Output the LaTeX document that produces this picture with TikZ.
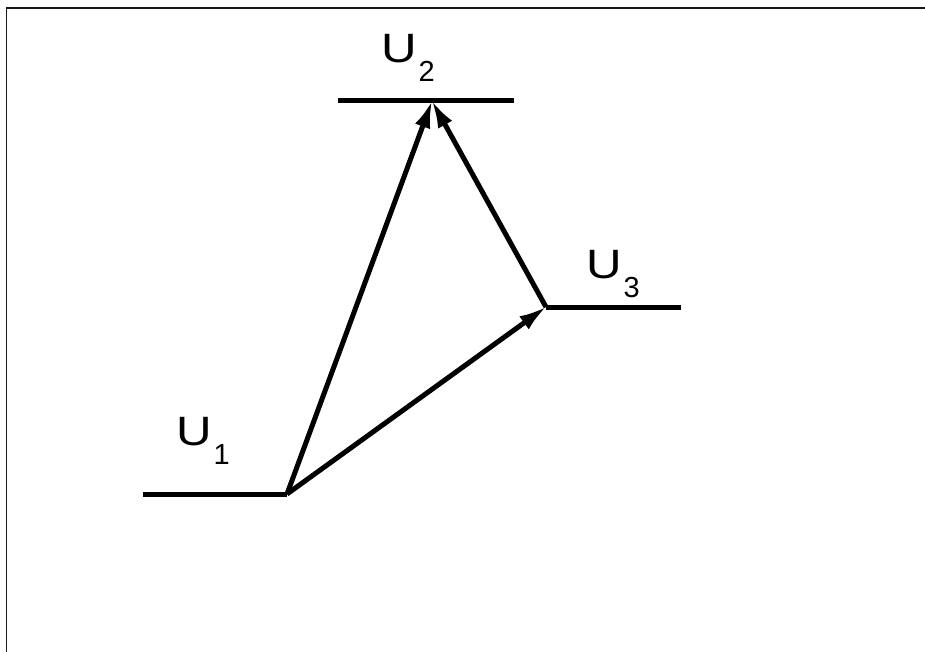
\documentclass[tikz,border=0pt]{standalone}
\usepackage{fontspec}
\setmainfont{Liberation Sans}
\usetikzlibrary{arrows.meta}
\tikzset{
  level/.style={line width=5pt},
  vec/.style={line width=5pt,-{Latex[length=28pt,width=16pt]}, shorten >=-1pt},
  frame/.style={line width=1.3pt,draw=black!90},
  lab/.style={inner sep=0pt,anchor=base west,font=\fontsize{41}{41}\selectfont},
}
\newcommand{\Ulab}[1]{\scalebox{1.2}[1]{U}\hspace{2pt}\raisebox{-19pt}{\fontsize{29}{29}\selectfont #1}}
\begin{document}
\begin{tikzpicture}[x=1pt,y=-1pt]
\useasboundingbox (0,0) rectangle (925,652);
% frame
\coordinate (fa) at (6.5,652);
\coordinate (fb) at (6.5,8);
\coordinate (fc) at (925,8);
\draw[frame] (fa) -- (fb) -- (fc);
% levels
\coordinate (p1) at (287,494);
\coordinate (p2) at (432,101);
\coordinate (p3) at (546,307);
\coordinate (l1) at (143,494);
\coordinate (r2a) at (338,101);
\coordinate (r2b) at (514,101);
\coordinate (r3) at (681,307);
\draw[level] (l1) -- (p1);
\draw[level] (r2a) -- (r2b);
\draw[level] (p3) -- (r3);
% vectors
\draw[vec] (p1) -- (p2);
\draw[vec] (p3) -- (p2);
\draw[vec] (p1) -- (p3);
% labels
\node[lab] (u2) at (381,63) {\Ulab{2}};
\node[lab] (u3) at (586,278) {\Ulab{3}};
\node[lab] (u1) at (176,445) {\Ulab{1}};
\end{tikzpicture}
\end{document}
